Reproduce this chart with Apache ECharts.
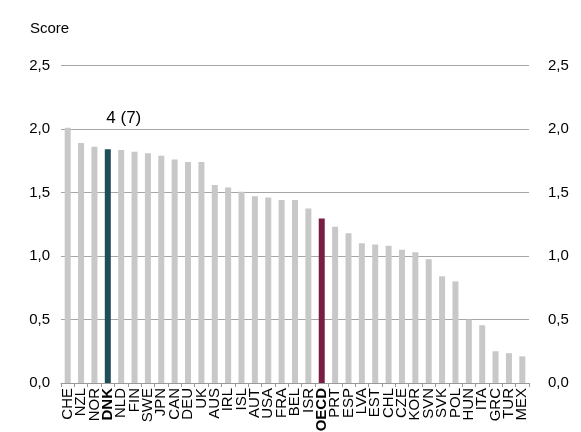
<!DOCTYPE html>
<html><head><meta charset="utf-8">
<script src="https://cdn.jsdelivr.net/npm/echarts@6/dist/echarts.min.js"></script>
<style>html,body{margin:0;padding:0;background:#fff}#c{width:581px;height:432px}</style>
</head><body><div id="c"></div>
<script>
const categories = ['CHE','NZL','NOR','DNK','NLD','FIN','SWE','JPN','CAN','DEU','UK','AUS','IRL','ISL','AUT','USA','FRA','BEL','ISR','OECD','PRT','ESP','LVA','EST','CHL','CZE','KOR','SVN','SVK','POL','HUN','ITA','GRC','TUR','MEX'];
const scores = [2.01,1.89,1.86,1.84,1.835,1.82,1.81,1.79,1.76,1.74,1.74,1.56,1.54,1.505,1.47,1.46,1.44,1.44,1.375,1.295,1.23,1.18,1.10,1.09,1.08,1.05,1.03,0.975,0.84,0.80,0.50,0.455,0.25,0.235,0.21];
const yTicks = [0,0.5,1.0,1.5,2.0,2.5];
const highlight = {DNK:'#1e4f58', OECD:'#7a1d44'};
const dnkNote = '4 (7)';

const FONT = 'Liberation Sans, Arial, sans-serif';
const data = categories.map((c,i)=>{
  const item = {value: scores[i]};
  if (highlight[c]) item.itemStyle = {color: highlight[c]};
  if (c === 'DNK') item.label = {show:true, position:'top', formatter: dnkNote, fontSize:17, color:'#000', fontFamily:FONT, offset:[16,-18]};
  return item;
});
const fmt = v => v.toFixed(1).replace('.', ',');
const yAxisBase = {
  type:'value', min: yTicks[0], max: yTicks[yTicks.length-1], interval: 0.5,
  axisLine:{show:false}, axisTick:{show:false},
  axisLabel:{formatter: fmt, fontSize:15, color:'#000', fontFamily:FONT},
};
const chart = echarts.init(document.getElementById('c'), null, {renderer:'canvas'});
chart.setOption({
  animation:false,
  grid:{left:61, right:52, top:65.5, bottom:49, containLabel:false, outerBoundsMode:'none'},
  graphic:[{type:'text', left:30, top:21, style:{text:'Score', fontSize:15, fill:'#000', fontFamily:FONT}}],
  xAxis:{
    type:'category', data: categories,
    axisLine:{lineStyle:{color:'#999', width:1}},
    axisTick:{show:true, length:4, lineStyle:{color:'#999'}},
    axisLabel:{rotate:90, interval:0, fontSize:15, color:'#000', fontFamily:FONT, margin:5,
      formatter: v => (v==='DNK'||v==='OECD') ? '{b|'+v+'}' : v,
      rich:{b:{fontWeight:'bold', fontSize:15, color:'#000', fontFamily:FONT}}}
  },
  yAxis:[
    Object.assign({}, yAxisBase, {position:'left', splitLine:{lineStyle:{color:'#a6a6a6', width:1}}, axisLabel:Object.assign({}, yAxisBase.axisLabel, {margin:11})}),
    Object.assign({}, yAxisBase, {position:'right', splitLine:{show:false}, axisLabel:Object.assign({}, yAxisBase.axisLabel, {margin:19})})
  ],
  series:[{type:'bar', data: data, barWidth:6, itemStyle:{color:'#c8c8c8'}, yAxisIndex:0}]
});
</script></body></html>
